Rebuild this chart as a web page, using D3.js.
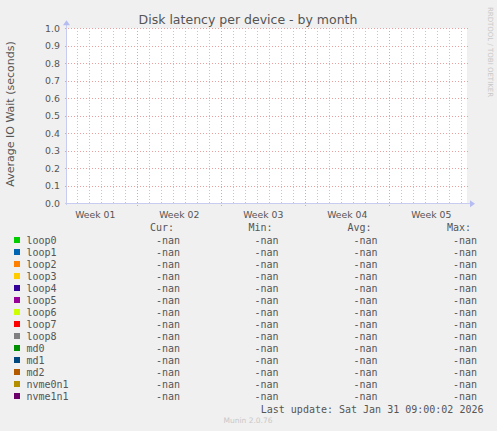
<!DOCTYPE html>
<html>
<head>
<meta charset="utf-8">
<script src="https://cdn.jsdelivr.net/npm/d3@7"></script>
<style>
  html, body { margin: 0; padding: 0; background: #f0f0f0; }
  svg { display: block; }
  text { font-family: "DejaVu Sans", sans-serif; fill: #555; }
  .mono { font-family: "DejaVu Sans Mono", monospace; }
</style>
</head>
<body>
<div id="chart"></div>
<script>
const devices = ["loop0", "loop1", "loop2", "loop3", "loop4", "loop5", "loop6",
  "loop7", "loop8", "md0", "md1", "md2", "nvme0n1", "nvme1n1"];
const deviceColors = ["#00cc00", "#0066b3", "#ff8000", "#ffcc00", "#330099", "#990099",
  "#ccff00", "#ff0000", "#808080", "#008f00", "#00487d", "#b35a00", "#b38f00", "#6b006b"];
// no samples in the month: every value is nan
const curValues = devices.map(() => NaN);
const minValues = devices.map(() => NaN);
const avgValues = devices.map(() => NaN);
const maxValues = devices.map(() => NaN);
const series = devices.map(() => []);

const weekLabels = ["Week 01", "Week 02", "Week 03", "Week 04", "Week 05"];
const weekLabelDays = [-0.5, 6.5, 13.5, 20.5, 27.5].map((d) => d + 3);
const majorDays = [6, 13, 20, 27];
const yTicks = d3.range(0, 11).map((i) => i / 10);
const legendHeaders = ["Cur:", "Min:", "Avg:", "Max:"];
const lastUpdate = "Last update: Sat Jan 31 09:00:02 2026";

const width = 497, height = 431;
const plot = { left: 67, right: 467, top: 28.3, bottom: 203.3 };

const svg = d3.select("#chart").append("svg")
  .attr("width", width)
  .attr("height", height);

svg.append("rect").attr("width", width).attr("height", height).attr("fill", "#f0f0f0");

// x in days since the last sunday before the window
const x = d3.scaleLinear()
  .domain([(plot.left - 65.3) / 12, (plot.right - 65.3) / 12])
  .range([plot.left, plot.right]);
const y = d3.scaleLinear().domain([0, 1]).range([plot.bottom, plot.top]);

svg.append("rect")
  .attr("x", plot.left).attr("y", plot.top)
  .attr("width", plot.right - plot.left).attr("height", plot.bottom - plot.top)
  .attr("fill", "#fff");

const grid = svg.append("g").attr("shape-rendering", "crispEdges");

// minor day lines
d3.range(1, 34).filter((d) => !majorDays.includes(d)).forEach((d) => {
  grid.append("line")
    .attr("x1", Math.round(x(d)) + 0.5).attr("x2", Math.round(x(d)) + 0.5)
    .attr("y1", plot.top).attr("y2", plot.bottom)
    .attr("stroke", "#c6c6c6").attr("stroke-dasharray", "1,2");
});

yTicks.slice(1).forEach((v) => {
  grid.append("line")
    .attr("x1", plot.left - 2).attr("x2", plot.right + 1)
    .attr("y1", Math.round(y(v)) + 0.5).attr("y2", Math.round(y(v)) + 0.5)
    .attr("stroke", "#eba0a0").attr("stroke-dasharray", "1,2");
});

majorDays.forEach((d) => {
  grid.append("line")
    .attr("x1", Math.round(x(d)) + 0.5).attr("x2", Math.round(x(d)) + 0.5)
    .attr("y1", plot.top).attr("y2", plot.bottom + 3)
    .attr("stroke", "#eba0a0").attr("stroke-dasharray", "1,2");
});

// data lines (all undefined)
const line = d3.line()
  .defined((d) => !isNaN(d.v))
  .x((d) => x(d.day))
  .y((d) => y(d.v));
series.forEach((s, i) => {
  svg.append("path").datum(s)
    .attr("d", line)
    .attr("fill", "none")
    .attr("stroke", deviceColors[i]);
});

// axes with arrows
const axisColor = "#c8ccf0";
svg.append("line")
  .attr("x1", plot.left - 0.5).attr("x2", plot.left - 0.5)
  .attr("y1", plot.bottom + 2).attr("y2", plot.top - 4)
  .attr("stroke", axisColor).attr("shape-rendering", "crispEdges");
svg.append("path")
  .attr("d", `M${plot.left - 4},${plot.top - 3} L${plot.left - 0.5},${plot.top - 8} L${plot.left + 3},${plot.top - 3} Z`)
  .attr("fill", "#b4bcf2");
svg.append("line")
  .attr("x1", plot.left - 2).attr("x2", plot.right + 3)
  .attr("y1", plot.bottom + 0.5).attr("y2", plot.bottom + 0.5)
  .attr("stroke", axisColor).attr("shape-rendering", "crispEdges");
svg.append("path")
  .attr("d", `M${plot.right + 3},${plot.bottom - 3} L${plot.right + 8},${plot.bottom + 0.5} L${plot.right + 3},${plot.bottom + 4} Z`)
  .attr("fill", "#b4bcf2");

// y tick labels
svg.append("g").selectAll("text")
  .data(yTicks)
  .join("text")
  .attr("x", 60)
  .attr("y", (d) => y(d) + 3.4)
  .attr("text-anchor", "end")
  .attr("font-size", 9.4)
  .text((d) => d.toFixed(1));

// week labels
svg.append("g").selectAll("text")
  .data(weekLabels)
  .join("text")
  .attr("x", (d, i) => x(weekLabelDays[i]))
  .attr("y", 218)
  .attr("text-anchor", "middle")
  .attr("font-size", 9.3)
  .text((d) => d);

svg.append("text")
  .attr("x", 248).attr("y", 23.5)
  .attr("text-anchor", "middle")
  .attr("font-size", 12.5)
  .text("Disk latency per device - by month");

svg.append("text")
  .attr("transform", "translate(14,114) rotate(-90)")
  .attr("text-anchor", "middle")
  .attr("font-size", 11)
  .text("Average IO Wait (seconds)");

svg.append("text")
  .attr("transform", "translate(487.5,52) rotate(90)")
  .attr("text-anchor", "middle")
  .attr("font-size", 7)
  .style("fill", "#c8c8c8")
  .text("RRDTOOL / TOBI OETIKER");

// legend
const valueEnds = [180, 278.5, 377.5, 477];
const fmt = (v) => isNaN(v) ? "-nan" : d3.format(".2f")(v);

svg.append("g").selectAll("text")
  .data(legendHeaders)
  .join("text")
  .attr("class", "mono")
  .attr("x", (d, i) => valueEnds[i] - 6)
  .attr("y", 231)
  .attr("text-anchor", "end")
  .attr("font-size", 10)
  .text((d) => d);

const rowY = (i) => 240 + i * 12;
const rows = svg.append("g").selectAll("g")
  .data(devices)
  .join("g");

rows.append("rect")
  .attr("x", 14).attr("y", (d, i) => rowY(i) - 3)
  .attr("width", 6).attr("height", 6)
  .attr("fill", (d, i) => deviceColors[i]);

rows.append("text")
  .attr("class", "mono")
  .attr("x", 26.5).attr("y", (d, i) => rowY(i) + 3.5)
  .attr("font-size", 10)
  .text((d) => d);

[curValues, minValues, avgValues, maxValues].forEach((vals, c) => {
  rows.append("text")
    .attr("class", "mono")
    .attr("x", valueEnds[c])
    .attr("y", (d, i) => rowY(i) + 3.5)
    .attr("text-anchor", "end")
    .attr("font-size", 10)
    .text((d, i) => fmt(vals[i]));
});

svg.append("text")
  .attr("class", "mono")
  .attr("x", 483.5).attr("y", 412.5)
  .attr("text-anchor", "end")
  .attr("font-size", 10)
  .text(lastUpdate);

svg.append("text")
  .attr("x", 248).attr("y", 423)
  .attr("text-anchor", "middle")
  .attr("font-size", 7.5)
  .style("fill", "#c8c8c8")
  .text("Munin 2.0.76");
</script>
</body>
</html>
